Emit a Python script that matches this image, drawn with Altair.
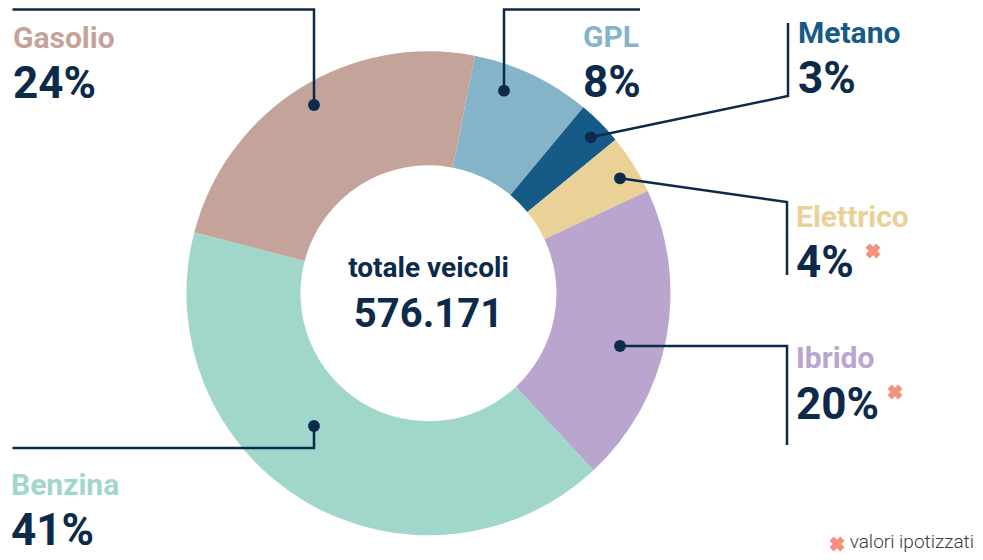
import math
import altair as alt
import pandas as pd

# ---- data ----
categories = ["GPL", "Metano", "Elettrico", "Ibrido", "Benzina", "Gasolio"]
shares = [8, 3, 4, 20, 41, 24]
pct_labels = ["8%", "3%", "4%", "20%", "41%", "24%"]
hypothetical = [False, False, True, True, False, False]
total_label = "576.171"
center_title = "totale veicoli"
footnote = "valori ipotizzati"

# ---- styles ----
slice_colors = ["#85b4c9", "#165a87", "#e9d197", "#b9a5cd", "#a1d7cb", "#c4a39a"]
navy = "#0c2a4a"
star_color = "#f4917f"

# ---- layout (pixels, chart coordinates) ----
W, H = 967, 544
CX, CY = 420.5, 285.3
R_OUT, R_IN = 242, 128
START = math.radians(11)

# leader lines: list of polylines per category
leaders = {
    "Gasolio": [(306, 97), (306, 1.5), (4.5, 1.5)],
    "GPL": [(496, 82.7), (496, 1.5), (632, 1.5)],
    "Metano": [(582.7, 129.3), (780, 88), (780, 15)],
    "Elettrico": [(612, 170.3), (779, 194), (779, 267)],
    "Ibrido": [(612, 338), (779, 338), (779, 437)],
    "Benzina": [(306, 418), (306, 440), (4.5, 440)],
}
# label anchor (x, name baseline, pct baseline)
label_pos = {
    "Gasolio": (5, 40, 90),
    "GPL": (575, 39, 89),
    "Metano": (790, 35, 85),
    "Elettrico": (788, 219, 269),
    "Ibrido": (788, 360, 411),
    "Benzina": (3, 487, 537),
}
star_pos = {"Elettrico": (865, 243), "Ibrido": (887, 384)}

df = pd.DataFrame({
    "cat": categories,
    "share": shares,
    "order": list(range(len(categories))),
    "color": slice_colors,
})

donut = alt.Chart(df).mark_arc(outerRadius=R_OUT, innerRadius=R_IN).encode(
    theta=alt.Theta("share:Q", stack=True,
                    scale=alt.Scale(range=[START, START + 2 * math.pi])),
    color=alt.Color("color:N", scale=None),
    order=alt.Order("order:Q"),
    x=alt.value(CX),
    y=alt.value(CY),
)

# leader lines
rows = []
for cat, pts in leaders.items():
    for i, (x, y) in enumerate(pts):
        rows.append({"cat": cat, "seq": i, "x": x, "y": y})
ldf = pd.DataFrame(rows)
lines = alt.Chart(ldf).mark_line(color=navy, strokeWidth=2.5, strokeJoin="miter").encode(
    x=alt.X("x:Q", scale=None),
    y=alt.Y("y:Q", scale=None),
    detail="cat:N",
    order="seq:Q",
)
dots = alt.Chart(ldf[ldf.seq == 0]).mark_point(
    filled=True, color=navy, size=140, opacity=1, shape="circle"
).encode(x=alt.X("x:Q", scale=None), y=alt.Y("y:Q", scale=None))

# labels
lab_rows = []
for cat, pct, col in zip(categories, pct_labels, slice_colors):
    x, yn, yp = label_pos[cat]
    lab_rows.append({"cat": cat, "pct": pct, "color": col, "x": x, "yn": yn, "yp": yp})
labdf = pd.DataFrame(lab_rows)

names = alt.Chart(labdf).mark_text(
    align="left", baseline="alphabetic", font="Roboto", fontWeight="bold", fontSize=30
).encode(
    x=alt.X("x:Q", scale=None), y=alt.Y("yn:Q", scale=None),
    text="cat:N", color=alt.Color("color:N", scale=None),
)
pcts = alt.Chart(labdf).mark_text(
    align="left", baseline="alphabetic", font="Roboto", fontWeight="bold",
    fontSize=44, color=navy
).encode(x=alt.X("x:Q", scale=None), y=alt.Y("yp:Q", scale=None), text="pct:N")

star_rows = [{"x": star_pos[c][0], "y": star_pos[c][1]}
             for c, h in zip(categories, hypothetical) if h]
star_rows.append({"x": 829, "y": 536})
stars = alt.Chart(pd.DataFrame(star_rows)).mark_point(
    shape="cross", angle=45, filled=True, color=star_color, size=230, opacity=1
).encode(x=alt.X("x:Q", scale=None), y=alt.Y("y:Q", scale=None))

center = alt.Chart(pd.DataFrame({
    "t": [center_title], "x": [CX], "y": [268.7]
})).mark_text(
    align="center", baseline="alphabetic", font="Roboto", fontWeight="bold",
    fontSize=28, color=navy
).encode(x=alt.X("x:Q", scale=None), y=alt.Y("y:Q", scale=None), text="t:N")

total = alt.Chart(pd.DataFrame({
    "t": [total_label], "x": [CX], "y": [318.7]
})).mark_text(
    align="center", baseline="alphabetic", font="Roboto",
    fontWeight="bold", fontSize=40, color=navy
).encode(x=alt.X("x:Q", scale=None), y=alt.Y("y:Q", scale=None), text="t:N")

foot = alt.Chart(pd.DataFrame({
    "t": [footnote], "x": [966], "y": [540]
})).mark_text(
    align="right", baseline="alphabetic", font="Roboto", fontWeight=300,
    fontSize=19, color="#3a3a3a"
).encode(x=alt.X("x:Q", scale=None), y=alt.Y("y:Q", scale=None), text="t:N")

chart = alt.layer(donut, lines, dots, names, pcts, stars, center, total, foot).properties(
    width=W, height=H, padding=0, autosize="none", background="white"
).configure_view(stroke=None)

chart.save("out.html", embed_options={"renderer": "svg", "actions": False})
